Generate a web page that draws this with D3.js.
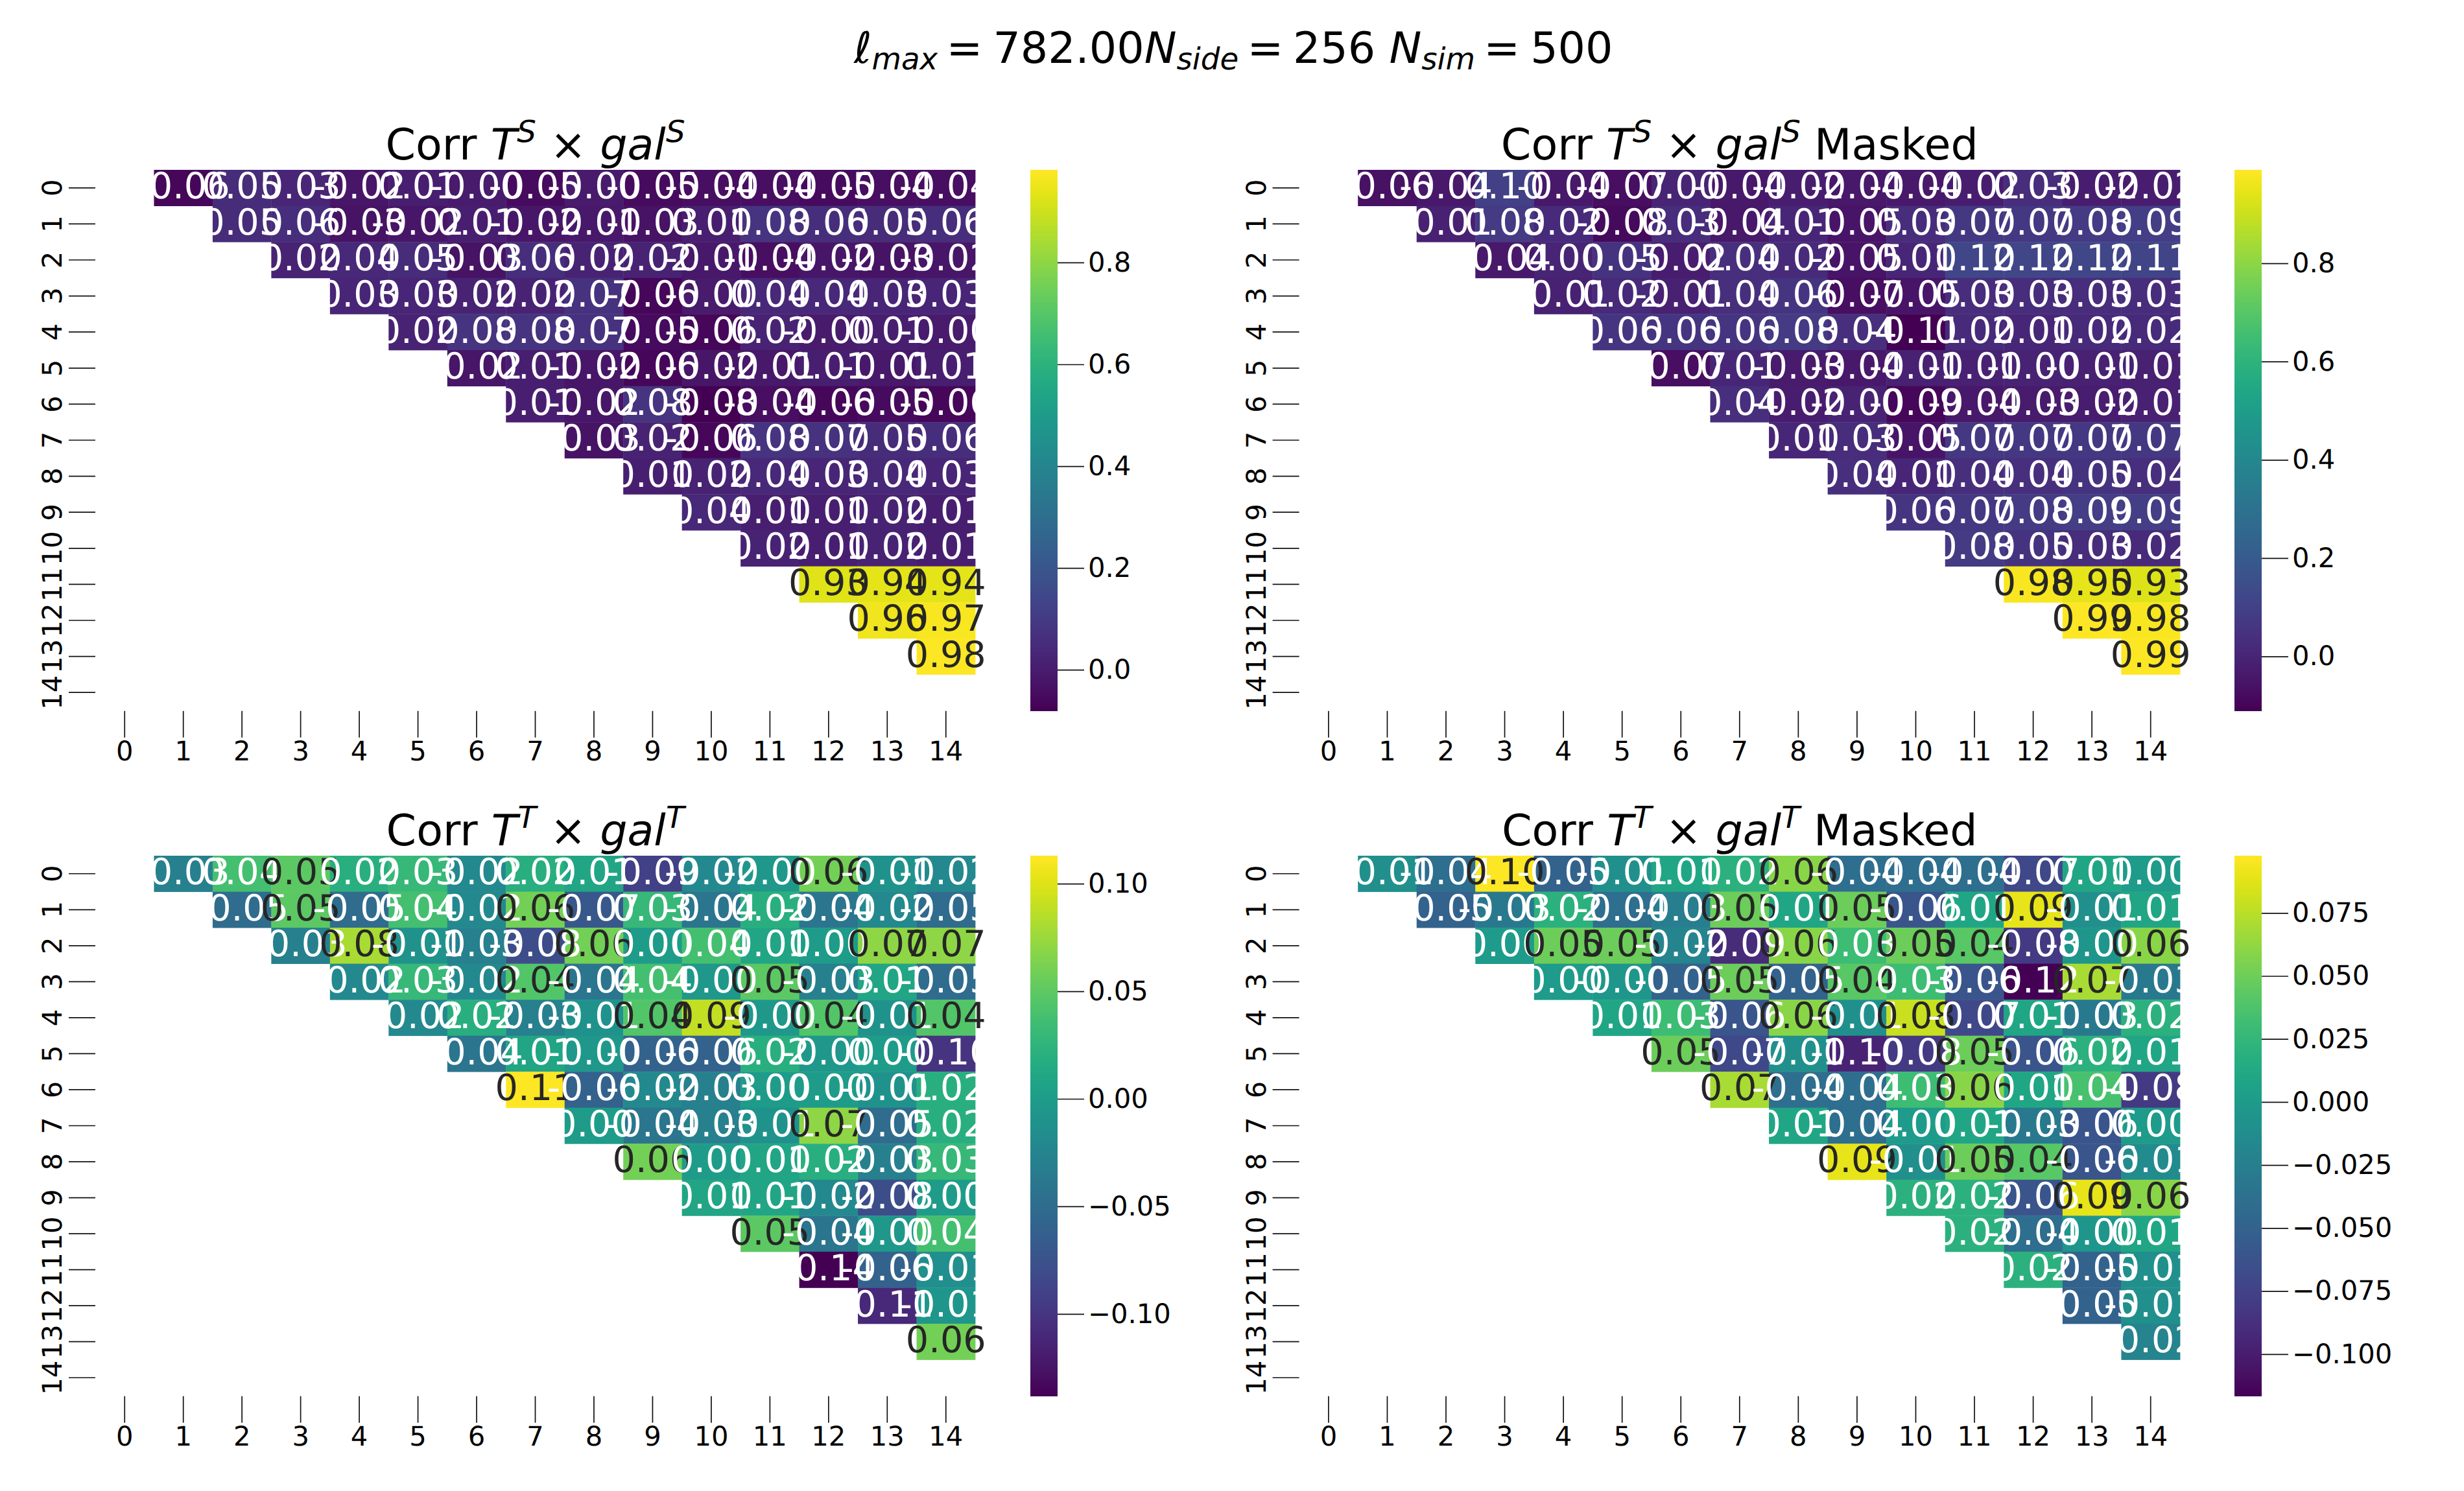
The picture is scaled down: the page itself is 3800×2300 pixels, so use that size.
<!DOCTYPE html>
<html><head><meta charset="utf-8">
<script src="https://cdn.jsdelivr.net/npm/d3@7"></script>
<style>
html,body{margin:0;padding:0;background:#fff}
svg{display:block}
text{font-family:"DejaVu Sans";text-rendering:geometricPrecision}
</style></head><body>
<script>
const labels = d3.range(15).map(String);

// Upper-triangle values: row r holds columns r+1 .. 14
const corrSS = [
[-0.06,0.05,0.03,-0.02,0.01,-0.004,-0.05,-0.004,-0.05,-0.04,-0.04,-0.05,-0.04,-0.04],
[0.05,0.06,-0.03,-0.02,0.01,-0.02,-0.01,-0.03,0.01,0.08,0.06,0.05,0.06],
[0.02,0.04,0.05,-0.03,0.06,0.02,0.02,-0.01,-0.04,-0.02,-0.03,-0.02],
[0.03,0.03,0.02,0.02,0.07,-0.06,-0.004,0.04,0.04,0.03,0.03],
[0.02,0.08,0.08,0.07,-0.05,-0.06,0.02,-0.004,0.01,-0.004],
[-0.02,0.01,-0.02,-0.06,-0.02,-0.01,0.01,-0.01,0.01],
[0.01,-0.02,0.08,-0.08,-0.04,-0.06,-0.05,-0.06],
[-0.03,0.02,-0.06,0.08,0.07,0.05,0.06],
[0.01,0.02,0.04,0.03,0.04,0.03],
[0.04,0.01,0.01,0.02,0.01],
[0.02,0.01,0.02,0.01],
[0.93,0.94,0.94],
[0.96,0.97],
[0.982]];
const corrSSMasked = [
[-0.06,-0.04,0.10,-0.04,-0.07,0.00,-0.04,-0.02,-0.04,-0.04,-0.02,0.03,-0.02,-0.02],
[-0.01,0.08,0.02,-0.08,0.03,-0.04,0.01,-0.05,0.03,0.07,0.07,0.08,0.09],
[-0.04,0.00,0.05,-0.02,0.04,0.02,-0.05,0.01,0.12,0.12,0.12,0.11],
[-0.01,0.02,-0.01,0.04,0.06,-0.07,-0.05,0.03,0.03,0.03,0.03],
[0.06,0.06,0.06,0.08,0.04,-0.11,0.02,0.01,0.02,0.02],
[-0.07,0.01,-0.03,-0.04,-0.01,-0.01,-0.004,-0.01,-0.01],
[0.04,-0.02,-0.004,-0.09,-0.04,-0.03,-0.02,-0.01],
[0.01,0.03,-0.05,0.07,0.07,0.07,0.07],
[0.04,0.01,0.04,0.04,0.05,0.04],
[0.06,0.07,0.08,0.09,0.09],
[0.08,0.05,0.03,0.02],
[0.98,0.95,0.93],
[0.99,0.98],
[0.99]];
const corrTT = [
[-0.03,0.038,0.05,0.02,0.03,-0.02,0.02,0.01,-0.09,-0.02,-0.004,0.06,-0.01,-0.02],
[-0.05,0.05,-0.05,0.038,-0.02,0.06,-0.07,0.03,-0.04,0.02,-0.04,-0.02,-0.05],
[-0.03,0.08,-0.01,-0.03,-0.08,0.06,0.00,0.038,0.01,0.00,0.07,0.07],
[-0.02,0.03,-0.02,0.045,-0.04,0.038,-0.004,0.05,-0.03,0.01,-0.05],
[-0.02,0.02,-0.03,-0.01,0.045,0.09,-0.004,0.045,-0.01,0.045],
[-0.04,0.01,-0.004,-0.06,-0.06,0.02,-0.004,0.00,-0.10],
[0.113,-0.06,-0.02,-0.03,0.00,0.00,-0.01,0.02],
[0.00,-0.04,-0.03,-0.01,0.07,-0.05,0.02],
[0.06,0.00,0.01,0.02,-0.03,0.03],
[0.01,0.01,-0.02,-0.08,0.00],
[0.05,-0.04,-0.004,0.038],
[-0.138,-0.06,-0.014],
[-0.11,-0.006],
[0.06]];
const corrTTMasked = [
[-0.01,-0.04,0.0977,-0.05,-0.01,0.01,0.02,0.06,-0.04,-0.04,-0.04,-0.07,0.01,0.00],
[-0.05,-0.03,0.02,-0.04,-0.026,0.05,0.01,0.05,-0.06,0.01,0.09,-0.01,0.01],
[0.00,0.05,0.05,-0.02,-0.09,0.06,0.03,0.05,0.042,-0.08,-0.004,0.06],
[0.00,-0.004,-0.05,0.05,-0.05,0.042,0.03,-0.06,-0.1165,0.07,-0.03],
[0.01,0.03,-0.06,0.06,-0.01,0.08,-0.07,0.01,-0.03,0.02],
[0.05,-0.07,-0.01,-0.096,-0.08,0.05,-0.06,0.02,0.01],
[0.07,-0.04,-0.04,0.03,0.06,0.01,0.0355,-0.08],
[0.01,-0.04,0.00,0.01,-0.03,-0.06,0.00],
[0.09,-0.01,0.05,0.042,-0.06,-0.014],
[0.02,0.02,-0.06,0.09,0.06],
[0.02,-0.04,-0.004,0.01],
[0.02,-0.05,-0.01],
[-0.05,-0.01],
[-0.02]];

const ticksSS = [0,0.2,0.4,0.6,0.8];
const ticksTT = [-0.10,-0.05,0,0.05,0.10];
const ticksTTMasked = [-0.100,-0.075,-0.050,-0.025,0,0.025,0.050,0.075];
const domainSS = [-0.08,0.982];
const domainSSMasked = [-0.11,0.99];
const domainTT = [-0.138,0.113];
const domainTTMasked = [-0.1165,0.0977];

const I=1, SUP=2, SUB=3;
// [text, style, gap before in em]
const suptitleParts = [["ℓ",I],["max",SUB],["=",0,0.2],["782.00",0,0.24],["N",I],["side",SUB],["=",0,0.2],["256",0,0.22],["N",I,0.318],["sim",SUB],["=",0,0.2],["500",0,0.24]];
const titleParts = (k,suffix)=>[["Corr ",0],["T",I],[k,SUP],[" × ",0],["gal",I],[k,SUP],[suffix,0]];

const panels = [
 {m:corrSS, dom:domainSS, ticks:ticksSS, fmt:".1f", x0:147, x1:1504, y0:262, y1:1096, cb:[1589,1631], title:titleParts("S","")},
 {m:corrSSMasked, dom:domainSSMasked, ticks:ticksSS, fmt:".1f", x0:2003.6, x1:3362, y0:262, y1:1096, cb:[3446,3488], title:titleParts("S"," Masked")},
 {m:corrTT, dom:domainTT, ticks:ticksTT, fmt:".2f", x0:147, x1:1504, y0:1320, y1:2153, cb:[1589,1631], title:titleParts("T","")},
 {m:corrTTMasked, dom:domainTTMasked, ticks:ticksTTMasked, fmt:".3f", x0:2003.6, x1:3362, y0:1320, y1:2153, cb:[3446,3488], title:titleParts("T"," Masked")}
];

const svg = d3.select("body").append("svg").attr("width",3800).attr("height",2300).style("background","#fff");

function mathText(sel, parts, size){
  let raise = 0;
  parts.forEach(([s,k,gap])=>{
    const t = sel.append("tspan").text(s).attr("xml:space","preserve").style("white-space","pre");
    const target = k===SUP ? -0.41*size : k===SUB ? 0.15*size : 0;
    t.attr("dy", target-raise); raise = target;
    if(gap) t.attr("dx",gap*size);
    if(k===SUP||k===SUB) t.attr("font-size",size*0.7);
    if(k===I||k===SUP||k===SUB) t.attr("font-style","italic");
  });
}

function lum(c){
  const f=v=>{v/=255;return v<=0.03928?v/12.92:Math.pow((v+0.055)/1.055,2.4)};
  const r=d3.rgb(c);return 0.2126*f(r.r)+0.7152*f(r.g)+0.0722*f(r.b);
}

const tickCol="#111", tickW=1.7, tickLen=41, tickFont=41.67;

panels.forEach(p=>{
  const g = svg.append("g");
  const x = d3.scaleBand().domain(labels).range([p.x0,p.x1]);
  const y = d3.scaleBand().domain(labels).range([p.y0,p.y1]);
  const color = d3.scaleSequential(d3.interpolateViridis).domain(p.dom);
  const cells = p.m.flatMap((row,r)=>row.map((v,i)=>({r:labels[r],c:labels[r+1+i],v})));

  g.append("g").selectAll("rect").data(cells).join("rect")
    .attr("x",d=>x(d.c)).attr("y",d=>y(d.r))
    .attr("width",x.bandwidth()+0.4).attr("height",y.bandwidth()+0.4)
    .attr("fill",d=>color(d.v));

  g.append("g").selectAll("text").data(cells).join("text")
    .attr("x",d=>x(d.c)+x.bandwidth()/2).attr("y",d=>y(d.r)+y.bandwidth()/2)
    .attr("dy",16.4).attr("text-anchor","middle").attr("font-size",55.6)
    .attr("fill",d=>lum(color(d.v))>0.408?"#262626":"#fff")
    .text(d=>d.v.toFixed(2));

  // axes
  const xa = g.append("g").attr("transform",`translate(0,${p.y1+0.7})`)
    .call(d3.axisBottom(x).tickSize(tickLen).tickPadding(5.7).tickSizeOuter(0));
  xa.select(".domain").remove();
  xa.selectAll("line").attr("stroke",tickCol).attr("stroke-width",tickW);
  xa.selectAll("text").attr("font-size",tickFont).attr("fill","#000").style("font-family",'"DejaVu Sans"');

  const ya = g.append("g").attr("transform",`translate(${p.x0},0)`)
    .call(d3.axisLeft(y).tickSize(tickLen).tickPadding(0).tickSizeOuter(0));
  ya.select(".domain").remove();
  ya.selectAll("line").attr("stroke",tickCol).attr("stroke-width",tickW);
  ya.selectAll("text").attr("font-size",tickFont).attr("fill","#000").style("font-family",'"DejaVu Sans"')
    .attr("x",null).attr("dy",null).attr("text-anchor","middle")
    .attr("transform","translate(-52,0) rotate(-90)");

  // colourbar
  const cy = d3.scaleLinear().domain(p.dom).range([p.y1,p.y0]);
  const steps = d3.range(256).map(i=>p.dom[0]+(p.dom[1]-p.dom[0])*i/256);
  const dv = (p.dom[1]-p.dom[0])/256;
  g.append("g").attr("shape-rendering","crispEdges").selectAll("rect").data(steps).join("rect")
    .attr("x",p.cb[0]).attr("width",p.cb[1]-p.cb[0])
    .attr("y",d=>cy(d+dv)).attr("height",d=>cy(d)-cy(d+dv)+1)
    .attr("fill",d=>color(d+dv/2));
  const fmtNum=d3.format(p.fmt);
  const ca = g.append("g").attr("transform",`translate(${p.cb[1]},0)`)
    .call(d3.axisRight(cy).tickValues(p.ticks).tickSize(tickLen).tickPadding(6).tickSizeOuter(0)
      .tickFormat(d=>fmtNum(d)));
  ca.select(".domain").remove();
  ca.selectAll("line").attr("stroke",tickCol).attr("stroke-width",tickW);
  ca.selectAll("text").attr("font-size",tickFont).attr("fill","#000").style("font-family",'"DejaVu Sans"');

  // title
  const t = g.append("text").attr("x",(p.x0+p.x1)/2).attr("y",p.y0-16)
    .attr("text-anchor","middle").attr("font-size",66.67).attr("fill","#000");
  mathText(t,p.title,66.67);
});

const st = svg.append("text").attr("x",1317).attr("y",97).attr("text-anchor","start").attr("font-size",66.67).attr("fill","#000");
mathText(st,suptitleParts,66.67);
</script>
</body></html>
